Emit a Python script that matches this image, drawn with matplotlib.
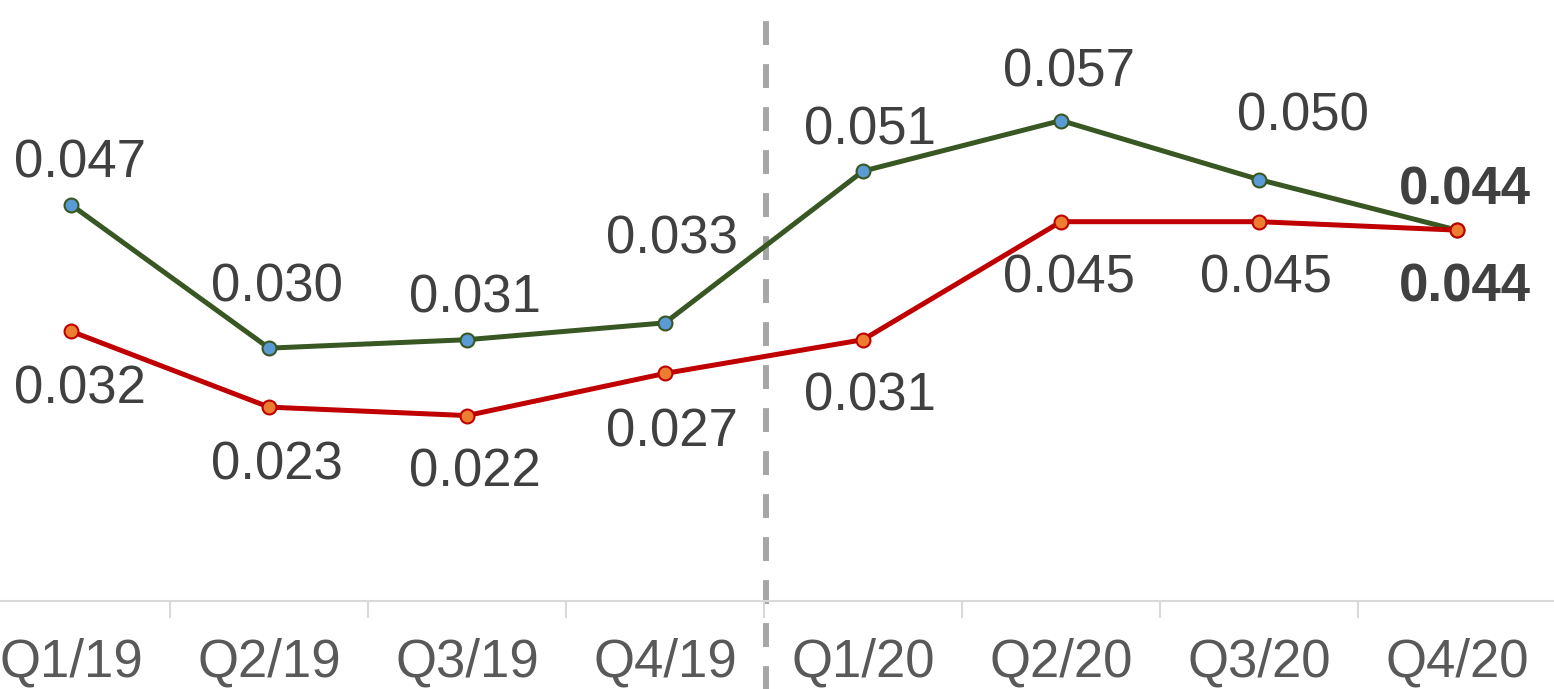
import matplotlib
matplotlib.use("Agg")
import matplotlib.pyplot as plt

# Chart data
quarters = ["Q1/19", "Q2/19", "Q3/19", "Q4/19", "Q1/20", "Q2/20", "Q3/20", "Q4/20"]
green_vals = [0.047, 0.030, 0.031, 0.033, 0.051, 0.057, 0.050, 0.044]
red_vals = [0.032, 0.023, 0.022, 0.027, 0.031, 0.045, 0.045, 0.044]

# label offsets (pixels, label centre relative to point)
green_offsets = [(9, 46), (8, 66), (8, 46), (7, 88), (7, 46), (8, 53), (44, 68), (8, 45)]
red_offsets = [(9, -53), (8, -53), (8, -52), (7, -54), (7, -52), (8, -52), (7, -52), (8, -52)]

plt.rcParams["font.family"] = ["Liberation Sans", "DejaVu Sans"]

DPI = 100
fig = plt.figure(figsize=(15.54, 6.89), dpi=DPI)
ax = fig.add_axes([0, 88 / 689, 1, 601 / 689])

x = list(range(len(quarters)))
ax.plot(x, green_vals, color="#385723", lw=3.6, marker="o", ms=10,
        mfc="#5B9BD5", mec="#385723", mew=1.5, zorder=3)
ax.plot(x, red_vals, color="#C00000", lw=3.6, marker="o", ms=10,
        mfc="#ED7D31", mec="#C00000", mew=1.5, zorder=3)

px2pt = 72 / DPI
half_digit = 19  # px, half the height of a digit


def put_labels(vals, offsets):
    for i, (v, (dx, dy)) in enumerate(zip(vals, offsets)):
        bold = i == len(vals) - 1
        ax.annotate(f"{v:.3f}", (i, v), xytext=(dx * px2pt, (dy - half_digit) * px2pt),
                    textcoords="offset points", ha="center", va="baseline",
                    fontsize=38, color="#404040",
                    fontweight="bold" if bold else "normal", zorder=4)


put_labels(green_vals, green_offsets)
put_labels(red_vals, red_offsets)

# dashed divider between 2019 and 2020
ax.axvline(3.51, ymin=-0.2, ymax=0.99, color="#A6A6A6", lw=4.3, dashes=(4, 3.2),
           clip_on=False, zorder=1)

ax.set_xlim(-0.359, 7.49)
ax.set_ylim(0, 0.0713)

for s in ["top", "left", "right"]:
    ax.spines[s].set_visible(False)
ax.spines["bottom"].set_color("#D9D9D9")
ax.spines["bottom"].set_linewidth(1.5)

ax.set_yticks([])
ax.set_xticks(x)
ax.set_xticklabels(quarters, fontsize=38, color="#595959")
ax.tick_params(axis="x", which="major", length=0, pad=26)
ax.set_xticks([i + 0.5 for i in range(len(quarters) - 1)], minor=True)
ax.tick_params(axis="x", which="minor", length=12, width=1.5, color="#D9D9D9")

fig.savefig("out.png", dpi=DPI)
